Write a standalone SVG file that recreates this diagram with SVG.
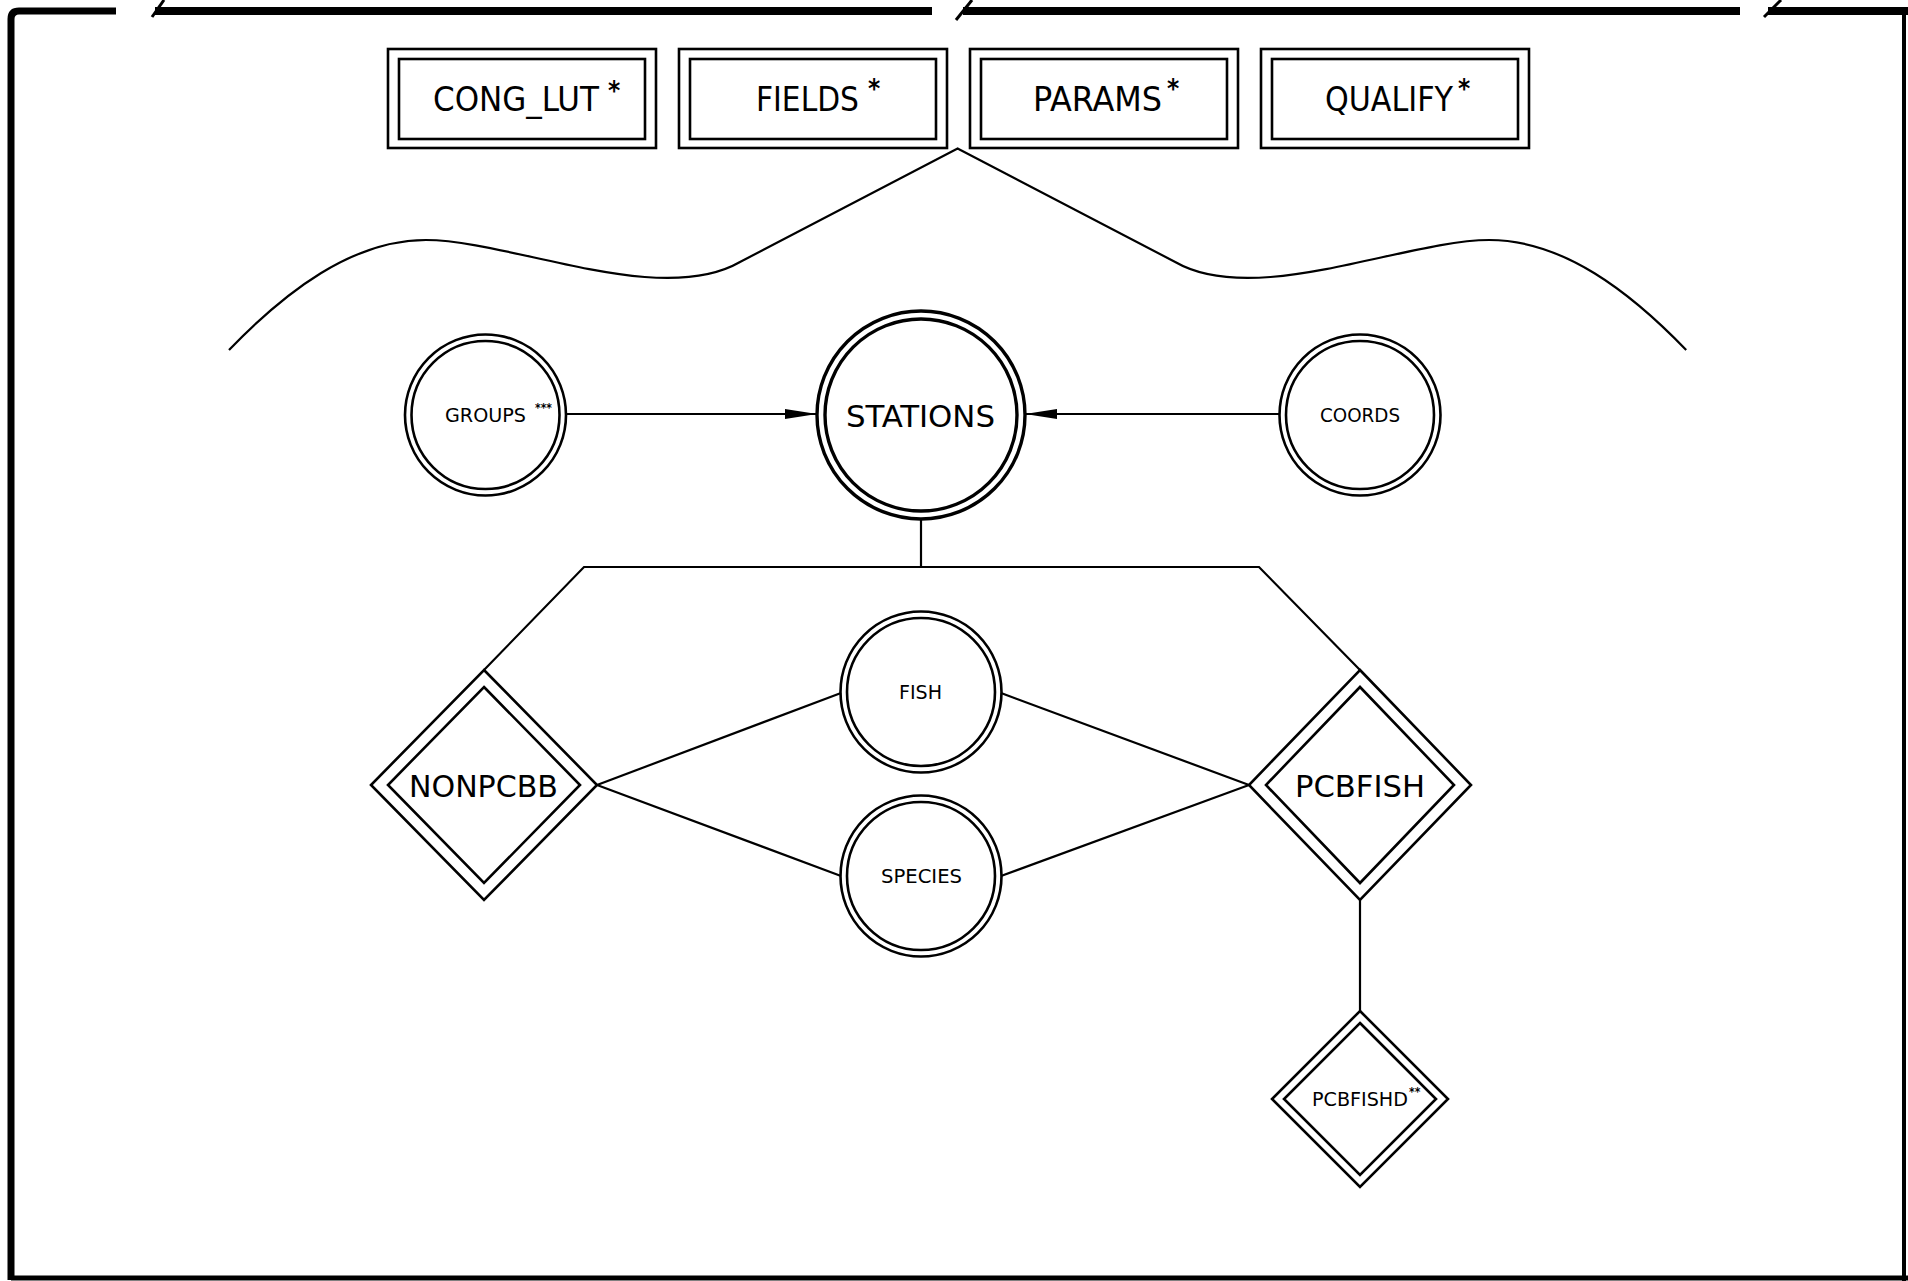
<svg xmlns="http://www.w3.org/2000/svg" width="1908" height="1281" viewBox="0 0 1908 1281">
<defs>
<style>
.ln{fill:none;stroke:#000;stroke-width:2.2}
.bx{fill:none;stroke:#000;stroke-width:2.6}
.thick{fill:none;stroke:#000;stroke-width:3.4}
.brd{fill:none;stroke:#000;stroke-linecap:butt}
text{font-family:'DejaVu Sans Condensed','DejaVu Sans',sans-serif;font-stretch:condensed;fill:#000}
.big{font-size:34px}
.med{font-size:31px}
.sm{font-size:20px}
.ast{font-size:26px;font-weight:bold}
.sup{font-size:12px;font-weight:bold}
</style>
<marker id="arr" markerUnits="userSpaceOnUse" markerWidth="34" markerHeight="12" refX="32" refY="6" orient="auto">
<path d="M0,1 L32,6 L0,11 z" fill="#000"/>
</marker>
</defs>
<rect width="1908" height="1281" fill="#fff"/>

<g id="frame">
<path class="brd" stroke-width="7" d="M11,1280 L11,19 Q11,11 19,11 L116,11"/>
<path class="brd" stroke-width="8" d="M155,11 L932,11"/>
<path class="brd" stroke-width="8" d="M963,11 L1740,11"/>
<path class="brd" stroke-width="8" d="M1768,11 L1908,11"/>
<path class="brd" stroke-width="4" d="M1904,11 L1904,1281"/>
<path class="brd" stroke-width="5" d="M11,1278 L1908,1278"/>
<path class="brd" stroke-width="3" d="M152,17 L164,0"/>
<path class="brd" stroke-width="3" d="M956,20 L972,0"/>
<path class="brd" stroke-width="3" d="M1764,17 L1781,0"/>
</g>

<g id="connectors">
<path class="ln" d="M229,350 C285,292 352,240 426,240 C510,240 660,308 740,262 L957.6,148.4 L1175.2,262 C1255.2,308 1405.2,240 1489.2,240 C1563.2,240 1630.2,292 1686.2,350"/>
<line class="ln" x1="566" y1="414" x2="817" y2="414" marker-end="url(#arr)"/>
<line class="ln" x1="1280" y1="414" x2="1025" y2="414" marker-end="url(#arr)"/>
<line class="ln" x1="921" y1="519" x2="921" y2="567"/>
<polyline class="ln" points="484,670 584,567 1259,567 1360,670"/>
<line class="ln" x1="597" y1="785" x2="841" y2="693"/>
<line class="ln" x1="597" y1="785" x2="841" y2="876"/>
<line class="ln" x1="1249" y1="785" x2="1001" y2="693"/>
<line class="ln" x1="1249" y1="785" x2="1001" y2="876"/>
<line class="ln" x1="1360" y1="900" x2="1360" y2="1011"/>
</g>

<g id="cong_lut">
<rect class="bx" x="388" y="49" width="268" height="99"/>
<rect class="bx" x="399" y="59" width="246" height="80"/>
<text class="big" x="433" y="111" textLength="166" lengthAdjust="spacingAndGlyphs">CONG_LUT</text>
<text class="ast" x="608" y="100">*</text>
</g>
<g id="fields">
<rect class="bx" x="679" y="49" width="268" height="99"/>
<rect class="bx" x="690" y="59" width="246" height="80"/>
<text class="big" x="756" y="111" textLength="103" lengthAdjust="spacingAndGlyphs">FIELDS</text>
<text class="ast" x="868" y="98">*</text>
</g>
<g id="params">
<rect class="bx" x="970" y="49" width="268" height="99"/>
<rect class="bx" x="981" y="59" width="246" height="80"/>
<text class="big" x="1033" y="111" textLength="129" lengthAdjust="spacingAndGlyphs">PARAMS</text>
<text class="ast" x="1167" y="98">*</text>
</g>
<g id="qualify">
<rect class="bx" x="1261" y="49" width="268" height="99"/>
<rect class="bx" x="1272" y="59" width="246" height="80"/>
<text class="big" x="1325" y="111" textLength="128" lengthAdjust="spacingAndGlyphs">QUALIFY</text>
<text class="ast" x="1458" y="98">*</text>
</g>

<g id="groups">
<circle class="bx" cx="485.5" cy="415" r="80.5"/>
<circle class="bx" cx="485.5" cy="415" r="74"/>
<text class="sm" x="445" y="422" textLength="81" lengthAdjust="spacingAndGlyphs">GROUPS</text>
<text class="sup" x="535" y="412">***</text>
</g>
<g id="stations">
<circle class="thick" cx="921" cy="415" r="104"/>
<circle class="thick" cx="921" cy="415" r="96"/>
<text class="med" x="846" y="427" textLength="149" lengthAdjust="spacingAndGlyphs">STATIONS</text>
</g>
<g id="coords">
<circle class="bx" cx="1360" cy="415" r="80.5"/>
<circle class="bx" cx="1360" cy="415" r="74"/>
<text class="sm" x="1320" y="422" textLength="80" lengthAdjust="spacingAndGlyphs">COORDS</text>
</g>
<g id="fish">
<circle class="bx" cx="921" cy="692" r="80.5"/>
<circle class="bx" cx="921" cy="692" r="74"/>
<text class="sm" x="899" y="699" textLength="43" lengthAdjust="spacingAndGlyphs">FISH</text>
</g>
<g id="species">
<circle class="bx" cx="921" cy="876" r="80.5"/>
<circle class="bx" cx="921" cy="876" r="74"/>
<text class="sm" x="881" y="883" textLength="81" lengthAdjust="spacingAndGlyphs">SPECIES</text>
</g>
<g id="nonpcbb">
<polygon class="bx" points="484,670 597,785 484,900 371,785"/>
<polygon class="bx" points="484,687 580,785 484,883 388,785"/>
<text class="med" x="409" y="797" textLength="149" lengthAdjust="spacingAndGlyphs">NONPCBB</text>
</g>
<g id="pcbfish">
<polygon class="bx" points="1360,670 1471,785 1360,900 1249,785"/>
<polygon class="bx" points="1360,687 1454,785 1360,883 1266,785"/>
<text class="med" x="1295" y="797" textLength="130" lengthAdjust="spacingAndGlyphs">PCBFISH</text>
</g>
<g id="pcbfishd">
<polygon class="bx" points="1360,1011 1448,1099 1360,1187 1272,1099"/>
<polygon class="bx" points="1360,1023 1436,1099 1360,1175 1284,1099"/>
<text class="sm" x="1312" y="1106" textLength="96" lengthAdjust="spacingAndGlyphs">PCBFISHD</text>
<text class="sup" x="1409" y="1096">**</text>
</g>
</svg>
